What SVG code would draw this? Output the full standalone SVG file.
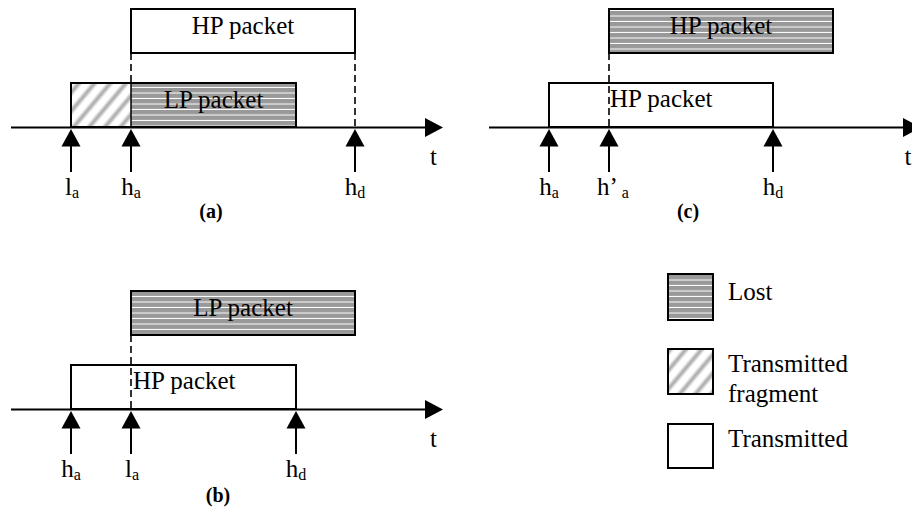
<svg xmlns="http://www.w3.org/2000/svg" width="912" height="512" viewBox="0 0 912 512">
  <defs>
    <style>
      .txt { font-family: "Liberation Serif", "Times New Roman", serif; font-size: 25px; fill: #000; }
      .sub { font-size: 16px; }
      .cap { font-family: "Liberation Serif", "Times New Roman", serif; font-size: 20px; font-weight: bold; text-anchor: middle; }
      .mid { text-anchor: middle; }
      .box { stroke: #000; stroke-width: 2; }
      .white { fill: #fff; }
      .lost { fill: url(#lostFill); }
      .frag { fill: url(#fragFill); }
      .axis { stroke: #000; stroke-width: 2; fill: none; }
      .dash { stroke: #000; stroke-width: 1.6; stroke-dasharray: 7 4; fill: none; }
    </style>
    <!-- grey fill with thin white horizontal lines -->
    <pattern id="lostFill" patternUnits="userSpaceOnUse" width="10" height="5.5">
      <rect width="10" height="5.5" fill="#999"/>
      <rect y="4.5" width="10" height="1" fill="#fff"/>
    </pattern>
    <!-- soft diagonal hatching -->
    <linearGradient id="stripe" x1="0" y1="0" x2="1" y2="0">
      <stop offset="0" stop-color="#fff"/>
      <stop offset="0.2" stop-color="#fff"/>
      <stop offset="0.5" stop-color="#a4a4a4"/>
      <stop offset="0.8" stop-color="#fff"/>
      <stop offset="1" stop-color="#fff"/>
    </linearGradient>
    <pattern id="fragFill" patternUnits="userSpaceOnUse" width="12" height="12" patternTransform="rotate(40)">
      <rect width="12" height="12" fill="url(#stripe)"/>
    </pattern>
    <!-- upward event arrow, tip at origin -->
    <g id="up">
      <path d="M0 0 L9.5 17.5 L-9.5 17.5 Z" fill="#000"/>
      <line x1="0" y1="16" x2="0" y2="43" stroke="#000" stroke-width="2"/>
    </g>
    <path id="head" d="M0 -9.5 L18 0 L0 9.5 Z" fill="#000"/>
  </defs>

  <!-- ===== (a) ===== -->
  <g id="a-hp">
    <rect class="box white" x="131" y="9" width="224" height="44"/>
    <text class="txt mid" x="243" y="34">HP packet</text>
  </g>
  <g id="a-lp">
    <rect class="frag" x="71" y="83" width="60" height="44"/>
    <rect class="lost" x="131" y="83" width="165" height="44"/>
    <rect class="box" fill="none" x="71" y="83" width="225" height="44"/>
    <line x1="131" y1="83" x2="131" y2="127" stroke="#000" stroke-width="1.5"/>
    <text class="txt mid" x="213.5" y="108">LP packet</text>
  </g>
  <g id="a-connectors">
    <line class="axis" x1="11" y1="127.5" x2="428" y2="127.5"/>
    <use href="#head" x="425" y="127.5"/>
    <line class="dash" x1="131" y1="53" x2="131" y2="83"/>
    <line class="dash" x1="355" y1="53" x2="355" y2="127"/>
    <use href="#up" x="71" y="129"/>
    <use href="#up" x="131" y="129"/>
    <use href="#up" x="355" y="129"/>
  </g>
  <g id="a-labels">
    <text class="txt" x="430" y="165">t</text>
    <text class="txt mid" x="72" y="195">l<tspan class="sub" dy="3">a</tspan></text>
    <text class="txt mid" x="131" y="195">h<tspan class="sub" dy="3">a</tspan></text>
    <text class="txt mid" x="355" y="195">h<tspan class="sub" dy="3">d</tspan></text>
    <text class="cap" x="211" y="218">(a)</text>
  </g>

  <!-- ===== (c) ===== -->
  <g id="c-hp-lost">
    <rect class="box lost" x="609" y="9" width="224" height="44"/>
    <text class="txt mid" x="721" y="34">HP packet</text>
  </g>
  <g id="c-hp">
    <rect class="box white" x="549" y="83" width="224" height="44"/>
    <text class="txt" x="610" y="107">HP packet</text>
  </g>
  <g id="c-connectors">
    <line class="axis" x1="489" y1="127.5" x2="906" y2="127.5"/>
    <use href="#head" x="903" y="127.5"/>
    <line class="dash" x1="609" y1="53" x2="609" y2="127"/>
    <use href="#up" x="549" y="129"/>
    <use href="#up" x="609" y="129"/>
    <use href="#up" x="773" y="129"/>
  </g>
  <g id="c-labels">
    <text class="txt" x="904.5" y="165">t</text>
    <text class="txt mid" x="549" y="195">h<tspan class="sub" dy="3">a</tspan></text>
    <text class="txt mid" x="613" y="195">h’<tspan class="sub" dx="4" dy="3">a</tspan></text>
    <text class="txt mid" x="773" y="195">h<tspan class="sub" dy="3">d</tspan></text>
    <text class="cap" x="688" y="218">(c)</text>
  </g>

  <!-- ===== (b) ===== -->
  <g id="b-lp-lost">
    <rect class="box lost" x="131" y="291" width="224" height="44"/>
    <text class="txt mid" x="243" y="316">LP packet</text>
  </g>
  <g id="b-hp">
    <rect class="box white" x="71" y="365" width="225" height="44"/>
    <text class="txt" x="133" y="389">HP packet</text>
  </g>
  <g id="b-connectors">
    <line class="axis" x1="11" y1="409.5" x2="428" y2="409.5"/>
    <use href="#head" x="425" y="409.5"/>
    <line class="dash" x1="131" y1="335" x2="131" y2="409"/>
    <use href="#up" x="71" y="411"/>
    <use href="#up" x="131" y="411"/>
    <use href="#up" x="296" y="411"/>
  </g>
  <g id="b-labels">
    <text class="txt" x="430" y="447">t</text>
    <text class="txt mid" x="71" y="477">h<tspan class="sub" dy="3">a</tspan></text>
    <text class="txt mid" x="132" y="477">l<tspan class="sub" dy="3">a</tspan></text>
    <text class="txt mid" x="296" y="477">h<tspan class="sub" dy="3">d</tspan></text>
    <text class="cap" x="218" y="502">(b)</text>
  </g>

  <!-- ===== legend ===== -->
  <g id="legend-lost">
    <rect class="box lost" x="668" y="274" width="45" height="46"/>
    <text class="txt" x="728" y="300">Lost</text>
  </g>
  <g id="legend-fragment">
    <rect class="box frag" x="668" y="349" width="45" height="45"/>
    <text class="txt" x="728" y="372">Transmitted</text>
    <text class="txt" x="728" y="402">fragment</text>
  </g>
  <g id="legend-transmitted">
    <rect class="box white" x="668" y="424" width="45" height="44"/>
    <text class="txt" x="728" y="447">Transmitted</text>
  </g>
</svg>
